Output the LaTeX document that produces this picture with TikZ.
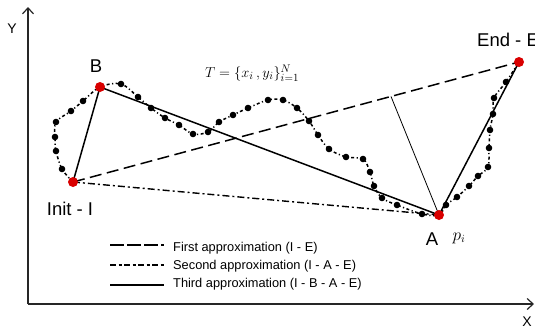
\documentclass[tikz,border=0pt]{standalone}
\usepackage{fontspec}
\setmainfont{Liberation Sans}
\usetikzlibrary{arrows.meta,calc}
\tikzset{
  axis/.style={line width=1.7pt,draw=black!85,-{Straight Barb[length=6pt,width=11pt,line width=1.2pt]}},
  firstap/.style={line width=1.5pt,dash pattern=on 12pt off 5.5pt},
  secondap/.style={line width=1.4pt,dash pattern=on 7pt off 3pt on 2pt off 3pt},
  thirdap/.style={line width=1.5pt},
  traj/.style={line width=1.5pt,dash pattern=on 3pt off 2.5pt on 1.2pt off 2.5pt},
  sample/.style={circle,fill=black,inner sep=0pt,minimum size=6.6pt},
  keypt/.style={circle,fill=red!85!black,inner sep=0pt,minimum size=10pt},
  lbl/.style={font=\fontsize{18.5}{20}\selectfont,inner sep=0pt},
  axlbl/.style={font=\fontsize{14}{16}\selectfont,inner sep=0pt},
  legtxt/.style={font=\fontsize{12.8}{14}\selectfont,anchor=west,inner sep=0pt}
}
\begin{document}
\begin{tikzpicture}[x=1pt,y=-1pt]
\useasboundingbox (0,0) rectangle (535,330);
% axes
\coordinate (O) at (28,304);
\coordinate (Ytop) at (28,7);
\coordinate (Xend) at (534,304);
\draw[axis] (O) -- (Ytop);
\draw[axis] (O) -- (Xend);
\node[axlbl] (ylab) at (12,29) {Y};
\node[axlbl] (xlab) at (527,322) {X};
% key points
\coordinate (I) at (73,182);
\coordinate (B) at (100,87);
\coordinate (A) at (439,215);
\coordinate (E) at (519,62);
% trajectory
\draw[traj] plot[smooth,tension=0.55] coordinates {
(73,182) (62,169) (56,151) (55,137) (56,122) (71,111) (83,101) (100,87)
(121,84) (138,97) (151,108) (165,118) (179,125) (193,134) (208,132) (219,122)
(233,115) (248,108) (268,100) (283,100) (297,108) (309,121) (318,135) (329,149)
(346,157) (363,159) (370,172) (374,186) (382,198) (397,205) (422,214) (439,215)
(446,205) (457,197) (469,186) (478,176) (488,167) (489,148) (490,130) (493,114)
(494,98) (506,82) (519,62)};
\foreach \p [count=\k] in {(62,169),(56,151),(55,137),(56,122),(71,111),(83,101),
(121,84),(138,97),(151,108),(165,118),(179,125),(193,134),(208,132),(219,122),
(233,115),(248,108),(268,100),(283,100),(297,108),(309,121),(318,135),(329,149),
(346,157),(363,159),(370,172),(374,186),(382,198),(397,205),(422,214),
(446,205),(457,197),(469,186),(478,176),(488,167),(489,148),(490,130),(493,114),
(494,98),(506,82)}
  \node[sample] (s\k) at \p {};
% approximations
\draw[firstap] (I) -- (E);
\draw[secondap] (I) -- (A);
\draw[thirdap] (I) -- (B) -- (A) -- (E);
\coordinate (F) at ($(I)!0.713!(E)$);
\draw[line width=0.8pt] (A) -- (F);
% key point dots
\node[keypt] (Id) at (I) {};
\node[keypt] (Bd) at (B) {};
\node[keypt] (Ad) at (A) {};
\node[keypt] (Ed) at (E) {};
% labels
\node[lbl] (Il) at (70,209) {Init - I};
\node[lbl] (Bl) at (96,66) {B};
\node[lbl] (Al) at (432,239) {A};
\node[lbl,anchor=west] (El) at (477,40) {End - E};
\node[inner sep=0pt,font=\fontsize{16}{18}\selectfont] (pl) at (459,238) {$p_i$};
\node[inner sep=0pt,font=\fontsize{15.5}{18}\selectfont] (Tl) at (252,73) {$T=\{x_i\,,y_i\}_{i=1}^N$};
% legend
\coordinate (l1a) at (110,245); \coordinate (l1b) at (164,245);
\coordinate (l2a) at (110,265); \coordinate (l2b) at (164,265);
\coordinate (l3a) at (110,285); \coordinate (l3b) at (164,285);
\draw[line width=1.4pt,dash pattern=on 14pt off 3pt] (l1a) -- (l1b);
\draw[line width=1.4pt,dash pattern=on 6pt off 2.5pt on 3pt off 2.5pt] (l2a) -- (l2b);
\draw[thirdap] (l3a) -- (l3b);
\node[legtxt] (t1) at (173,248) {First approximation (I - E)};
\node[legtxt] (t2) at (173,266) {Second approximation (I - A - E)};
\node[legtxt] (t3) at (173,284) {Third approximation (I - B - A - E)};
\end{tikzpicture}
\end{document}
